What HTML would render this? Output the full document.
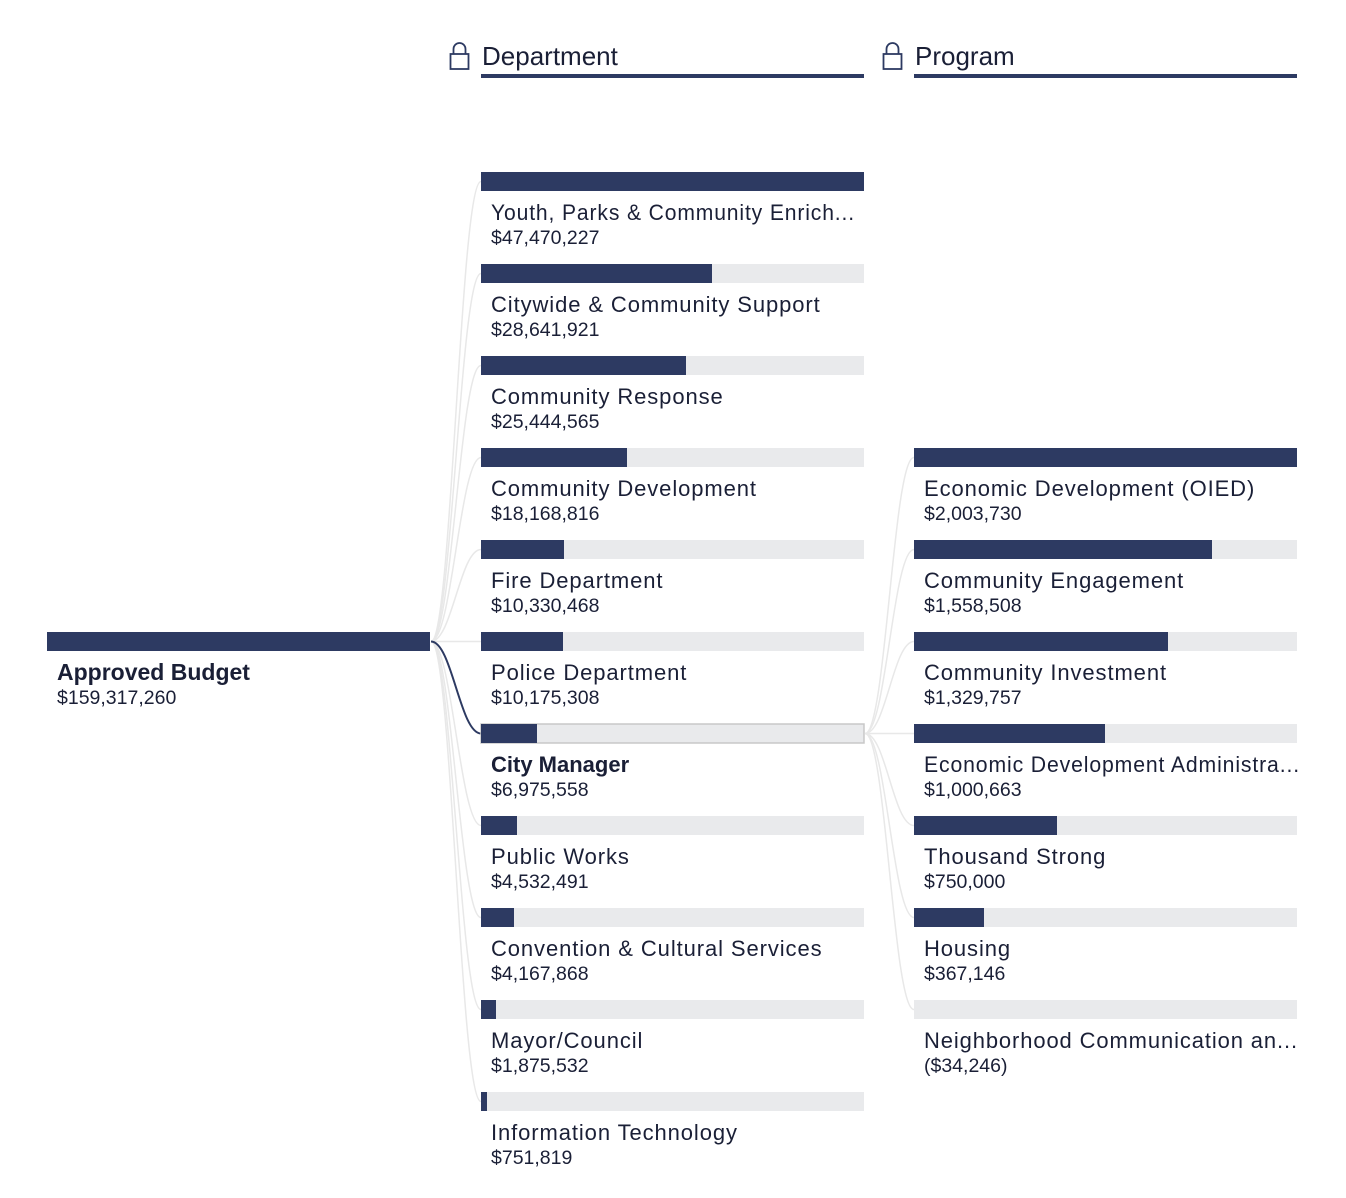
<!DOCTYPE html>
<html><head><meta charset="utf-8"><style>
body{margin:0;background:#fff;}
svg{display:block;font-family:"Liberation Sans",sans-serif;}
.n{font-size:22px;fill:#1a1f36;letter-spacing:0.9px;}
.v{font-size:19.5px;fill:#1a1f36;}
.bg{fill:#e9eaec;}
.fg{fill:#2d3a62;}
.c{fill:none;stroke:#e8e8e8;stroke-width:1.5;}
</style></head><body>
<svg width="1346" height="1198" viewBox="0 0 1346 1198">
<g fill="none" stroke="#2d3a62" stroke-width="1.8">
<rect x="450.5" y="54" width="18" height="15"/><path d="M453.5 54 V49 A6 6 0 0 1 465.5 49 V54"/>
<rect x="883.5" y="54" width="18" height="15"/><path d="M886.5 54 V49 A6 6 0 0 1 898.5 49 V54"/>
</g>
<text x="482" y="65" style="font-size:26px;fill:#1a1f36">Department</text>
<text x="915" y="65" style="font-size:26px;fill:#1a1f36">Program</text>
<rect x="481" y="74" width="383" height="4" class="fg"/>
<rect x="914" y="74" width="383" height="4" class="fg"/>

<g class="c">
<path d="M431 641.5 C452 641.5 460 181.5 481 181.5"/>
<path d="M431 641.5 C452 641.5 460 273.5 481 273.5"/>
<path d="M431 641.5 C452 641.5 460 365.5 481 365.5"/>
<path d="M431 641.5 C452 641.5 460 457.5 481 457.5"/>
<path d="M431 641.5 C452 641.5 460 549.5 481 549.5"/>
<path d="M431 641.5 L481 641.5"/>
<path d="M431 641.5 C452 641.5 460 825.5 481 825.5"/>
<path d="M431 641.5 C452 641.5 460 917.5 481 917.5"/>
<path d="M431 641.5 C452 641.5 460 1009.5 481 1009.5"/>
<path d="M431 641.5 C452 641.5 460 1101.5 481 1101.5"/>
</g>
<path d="M431 641.5 C452 641.5 460 733.5 481 733.5" fill="none" stroke="#2d3a62" stroke-width="2"/>
<g class="c">
<path d="M865 733.5 C886 733.5 893 457.5 914 457.5"/>
<path d="M865 733.5 C886 733.5 893 549.5 914 549.5"/>
<path d="M865 733.5 C886 733.5 893 641.5 914 641.5"/>
<path d="M865 733.5 L914 733.5"/>
<path d="M865 733.5 C886 733.5 893 825.5 914 825.5"/>
<path d="M865 733.5 C886 733.5 893 917.5 914 917.5"/>
<path d="M865 733.5 C886 733.5 893 1009.5 914 1009.5"/>
</g>

<rect x="47" y="632" width="383" height="19" class="fg"/>
<text x="57" y="680" style="font-size:23px;font-weight:bold;fill:#1a1f36">Approved Budget</text>
<text x="57" y="704" class="v">$159,317,260</text>

<g>
<rect x="481" y="172" width="383" height="19" class="bg"/><rect x="481" y="172" width="383" height="19" class="fg"/>
<text x="491" y="220" class="n" textLength="364" lengthAdjust="spacingAndGlyphs">Youth, Parks &amp; Community Enrich...</text><text x="491" y="244" class="v">$47,470,227</text>
<rect x="481" y="264" width="383" height="19" class="bg"/><rect x="481" y="264" width="231" height="19" class="fg"/>
<text x="491" y="312" class="n">Citywide &amp; Community Support</text><text x="491" y="336" class="v">$28,641,921</text>
<rect x="481" y="356" width="383" height="19" class="bg"/><rect x="481" y="356" width="205" height="19" class="fg"/>
<text x="491" y="404" class="n">Community Response</text><text x="491" y="428" class="v">$25,444,565</text>
<rect x="481" y="448" width="383" height="19" class="bg"/><rect x="481" y="448" width="146" height="19" class="fg"/>
<text x="491" y="496" class="n">Community Development</text><text x="491" y="520" class="v">$18,168,816</text>
<rect x="481" y="540" width="383" height="19" class="bg"/><rect x="481" y="540" width="83" height="19" class="fg"/>
<text x="491" y="588" class="n">Fire Department</text><text x="491" y="612" class="v">$10,330,468</text>
<rect x="481" y="632" width="383" height="19" class="bg"/><rect x="481" y="632" width="82" height="19" class="fg"/>
<text x="491" y="680" class="n">Police Department</text><text x="491" y="704" class="v">$10,175,308</text>
<rect x="481" y="724" width="383" height="19" class="bg" stroke="#c8c8c8" stroke-width="1.5"/><rect x="481" y="724" width="56" height="19" class="fg"/>
<text x="491" y="772" style="font-size:22px;font-weight:bold;fill:#1a1f36">City Manager</text><text x="491" y="796" class="v">$6,975,558</text>
<rect x="481" y="816" width="383" height="19" class="bg"/><rect x="481" y="816" width="36" height="19" class="fg"/>
<text x="491" y="864" class="n">Public Works</text><text x="491" y="888" class="v">$4,532,491</text>
<rect x="481" y="908" width="383" height="19" class="bg"/><rect x="481" y="908" width="33" height="19" class="fg"/>
<text x="491" y="956" class="n">Convention &amp; Cultural Services</text><text x="491" y="980" class="v">$4,167,868</text>
<rect x="481" y="1000" width="383" height="19" class="bg"/><rect x="481" y="1000" width="15" height="19" class="fg"/>
<text x="491" y="1048" class="n">Mayor/Council</text><text x="491" y="1072" class="v">$1,875,532</text>
<rect x="481" y="1092" width="383" height="19" class="bg"/><rect x="481" y="1092" width="6" height="19" class="fg"/>
<text x="491" y="1140" class="n">Information Technology</text><text x="491" y="1164" class="v">$751,819</text>
</g>

<g>
<rect x="914" y="448" width="383" height="19" class="bg"/><rect x="914" y="448" width="383" height="19" class="fg"/>
<text x="924" y="496" class="n">Economic Development (OIED)</text><text x="924" y="520" class="v">$2,003,730</text>
<rect x="914" y="540" width="383" height="19" class="bg"/><rect x="914" y="540" width="298" height="19" class="fg"/>
<text x="924" y="588" class="n">Community Engagement</text><text x="924" y="612" class="v">$1,558,508</text>
<rect x="914" y="632" width="383" height="19" class="bg"/><rect x="914" y="632" width="254" height="19" class="fg"/>
<text x="924" y="680" class="n">Community Investment</text><text x="924" y="704" class="v">$1,329,757</text>
<rect x="914" y="724" width="383" height="19" class="bg"/><rect x="914" y="724" width="191" height="19" class="fg"/>
<text x="924" y="772" class="n" textLength="376" lengthAdjust="spacingAndGlyphs">Economic Development Administra...</text><text x="924" y="796" class="v">$1,000,663</text>
<rect x="914" y="816" width="383" height="19" class="bg"/><rect x="914" y="816" width="143" height="19" class="fg"/>
<text x="924" y="864" class="n">Thousand Strong</text><text x="924" y="888" class="v">$750,000</text>
<rect x="914" y="908" width="383" height="19" class="bg"/><rect x="914" y="908" width="70" height="19" class="fg"/>
<text x="924" y="956" class="n">Housing</text><text x="924" y="980" class="v">$367,146</text>
<rect x="914" y="1000" width="383" height="19" class="bg"/>
<text x="924" y="1048" class="n" textLength="374" lengthAdjust="spacingAndGlyphs">Neighborhood Communication an...</text><text x="924" y="1072" class="v">($34,246)</text>
</g>
</svg>
</body></html>
